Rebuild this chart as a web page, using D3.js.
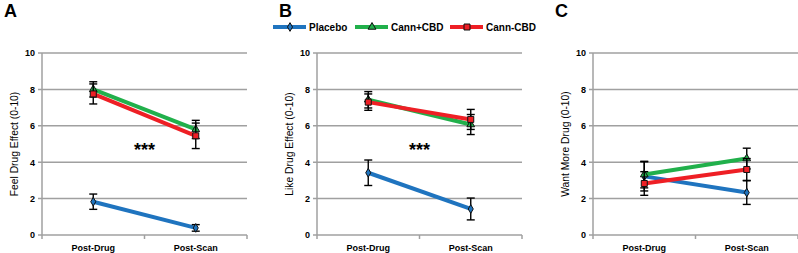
<!DOCTYPE html>
<html>
<head>
<meta charset="utf-8">
<script src="https://cdn.jsdelivr.net/npm/d3@7"></script>
<style>
  body { margin: 0; background: #fff; }
  svg { display: block; font-family: "Liberation Sans", Arial, sans-serif; }
</style>
</head>
<body>
<svg id="chart" width="798" height="253"></svg>
<script>
const timepoints = ["Post-Drug", "Post-Scan"];
const groups = ["Placebo", "Cann+CBD", "Cann-CBD"];
const groupColors = ["#1f74bf", "#21b04b", "#ee1f25"];
const groupMarkers = ["diamond", "triangle", "square"];
const yTicks = [0, 2, 4, 6, 8, 10];

// mean values per group, [Post-Drug, Post-Scan]
const feelMeans = [[1.83, 0.39], [8.0, 5.8], [7.75, 5.45]];
const feelErrors = [[0.42, 0.18], [0.42, 0.5], [0.55, 0.7]];
const likeMeans = [[3.42, 1.43], [7.43, 6.07], [7.3, 6.35]];
const likeErrors = [[0.7, 0.6], [0.45, 0.55], [0.45, 0.55]];
const wantMeans = [[3.22, 2.33], [3.32, 4.2], [2.83, 3.6]];
const wantErrors = [[0.8, 0.65], [0.73, 0.57], [0.65, 0.6]];

const panels = [
  {letter: "A", title: "Feel Drug Effect (0-10)", means: feelMeans, errors: feelErrors, stars: "***", left: 42},
  {letter: "B", title: "Like Drug Effect (0-10)", means: likeMeans, errors: likeErrors, stars: "***", left: 317},
  {letter: "C", title: "Want More Drug (0-10)", means: wantMeans, errors: wantErrors, stars: "", left: 593}
];

const svg = d3.select("#chart");
const plotW = 205, plotTop = 53, plotBottom = 235;
const grey = "#a0a0a0";

function drawPanel(p) {
  const x = d3.scaleBand().domain(timepoints).range([p.left, p.left + plotW]);
  const y = d3.scaleLinear().domain([0, 10]).range([plotBottom, plotTop]);
  const g = svg.append("g");

  // gridlines with short outward ticks
  g.selectAll("line.grid").data(yTicks.slice(1)).join("line")
    .attr("x1", p.left - 4).attr("x2", p.left + plotW)
    .attr("y1", d => y(d)).attr("y2", d => y(d))
    .attr("stroke", grey).attr("stroke-width", 1.5);

  // axes lines
  g.append("line").attr("x1", p.left - 4).attr("x2", p.left + plotW)
    .attr("y1", y(0)).attr("y2", y(0)).attr("stroke", grey).attr("stroke-width", 1.5);
  g.append("line").attr("x1", p.left).attr("x2", p.left)
    .attr("y1", y(10)).attr("y2", y(0)).attr("stroke", grey).attr("stroke-width", 1.5);
  const bounds = [x.range()[0], x.range()[0] + x.bandwidth(), x.range()[1]];
  g.selectAll("line.xt").data(bounds).join("line")
    .attr("x1", d => d).attr("x2", d => d)
    .attr("y1", y(0)).attr("y2", y(0) + 4)
    .attr("stroke", grey).attr("stroke-width", 1.5);

  // tick labels
  g.selectAll("text.yl").data(yTicks).join("text")
    .attr("x", p.left - 7).attr("y", d => y(d) + 3.3)
    .attr("text-anchor", "end").attr("font-size", 9).attr("font-weight", "bold")
    .text(d => d);
  g.selectAll("text.xl").data(timepoints).join("text")
    .attr("x", d => x(d) + x.bandwidth() / 2).attr("y", 250.5)
    .attr("text-anchor", "middle").attr("font-size", 9).attr("font-weight", "bold")
    .text(d => d);

  // axis title
  g.append("text")
    .attr("transform", `translate(${p.left - 24},${(plotTop + plotBottom) / 2}) rotate(-90)`)
    .attr("text-anchor", "middle").attr("font-size", 10.3)
    .text(p.title);

  // panel letter
  g.append("text").attr("x", p.left - 38).attr("y", 17)
    .attr("font-size", 18).attr("font-weight", "bold").text(p.letter);

  if (p.stars) {
    g.append("text").attr("x", p.left + plotW / 2).attr("y", 156)
      .attr("text-anchor", "middle").attr("font-size", 18).attr("font-weight", "bold")
      .text(p.stars);
  }

  const cx = t => x(t) + x.bandwidth() / 2;
  groups.forEach((grp, i) => {
    const pts = timepoints.map((t, j) => ({t, v: p.means[i][j], e: p.errors[i][j]}));
    g.append("path").datum(pts)
      .attr("d", d3.line().x(d => cx(d.t)).y(d => y(d.v)))
      .attr("fill", "none").attr("stroke", groupColors[i]).attr("stroke-width", 4);
    pts.forEach(d => {
      const xx = cx(d.t);
      g.append("line").attr("x1", xx).attr("x2", xx)
        .attr("y1", y(d.v + d.e)).attr("y2", y(d.v - d.e))
        .attr("stroke", "#000").attr("stroke-width", 1.4);
      [d.v + d.e, d.v - d.e].forEach(v => {
        g.append("line").attr("x1", xx - 4).attr("x2", xx + 4)
          .attr("y1", y(v)).attr("y2", y(v))
          .attr("stroke", "#000").attr("stroke-width", 1.4);
      });
    });
    pts.forEach(d => drawMarker(g, groupMarkers[i], cx(d.t), y(d.v), groupColors[i]));
  });
}

function drawMarker(g, kind, xx, yy, color) {
  const sym = kind === "diamond" ? d3.symbolDiamond : kind === "triangle" ? d3.symbolTriangle : d3.symbolSquare;
  const size = kind === "diamond" ? 22 : kind === "triangle" ? 26 : 36;
  g.append("path").attr("d", d3.symbol(sym, size)())
    .attr("transform", `translate(${xx},${yy})`)
    .attr("fill", color).attr("stroke", "#111").attr("stroke-width", 1);
}

panels.forEach(drawPanel);

// legend
const legendX = [273, 355, 450];
groups.forEach((grp, i) => {
  const lg = svg.append("g");
  lg.append("line").attr("x1", legendX[i]).attr("x2", legendX[i] + 33)
    .attr("y1", 27).attr("y2", 27)
    .attr("stroke", groupColors[i]).attr("stroke-width", 4);
  drawMarker(lg, groupMarkers[i], legendX[i] + 17, 27, groupColors[i]);
  lg.append("text").attr("x", legendX[i] + 36).attr("y", 30.5)
    .attr("font-size", 10).attr("font-weight", "bold").text(grp);
});
</script>
</body>
</html>
